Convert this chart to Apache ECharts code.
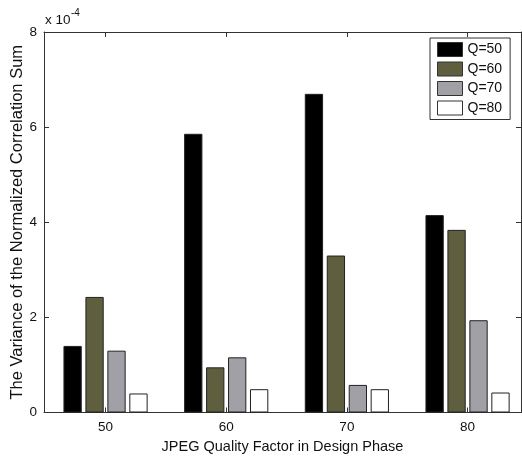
<!DOCTYPE html>
<html>
<head>
<meta charset="utf-8">
<script src="https://cdn.jsdelivr.net/npm/echarts@6/dist/echarts.min.js"></script>
<style>html,body{margin:0;padding:0;background:#fff;}#c{width:522px;height:459px;}</style>
</head>
<body>
<div id="c"></div>
<script>
var categories = [50, 60, 70, 80];
var seriesNames = ['Q=50', 'Q=60', 'Q=70', 'Q=80'];
var q50 = [1.40, 5.86, 6.70, 4.15];
var q60 = [2.43, 0.95, 3.30, 3.84];
var q70 = [1.30, 1.16, 0.58, 1.94];
var q80 = [0.40, 0.49, 0.49, 0.42];
var yTicks = [0, 2, 4, 6, 8];
var colors = ['#000000', '#5f5f3f', '#a0a0a6', '#ffffff'];
var allValues = [q50, q60, q70, q80];

var font = 'Liberation Sans, Arial, sans-serif';
var chart = echarts.init(document.getElementById('c'), null, {renderer: 'canvas'});

function pairs(vals) {
  return categories.map(function (c, i) { return [c, vals[i]]; });
}

var series = seriesNames.map(function (n, k) {
  return {
    name: n,
    type: 'bar',
    data: pairs(allValues[k]),
    barWidth: 18.3,
    barGap: '20%',
    itemStyle: {color: colors[k], borderColor: '#222', borderWidth: 1},
    emphasis: {disabled: true},
    animation: false
  };
});

var xMin = 44.9, xMax = 84.43;

chart.setOption({
  animation: false,
  textStyle: {fontFamily: font},
  grid: {left: 44, right: 1, top: 32, bottom: 46.5, containLabel: false, outerBoundsMode: 'none'},
  legend: {
    orient: 'vertical',
    left: 430, top: 38,
    itemWidth: 25, itemHeight: 14, itemGap: 4.5,
    padding: [4, 8, 4, 7],
    borderColor: '#333', borderWidth: 1,
    backgroundColor: '#fff',
    icon: 'rect',
    data: seriesNames,
    textStyle: {fontSize: 14, color: '#111', fontFamily: font},
    itemStyle: {borderColor: '#333', borderWidth: 1}
  },
  xAxis: [{
    type: 'value', min: xMin, max: xMax,
    name: 'JPEG Quality Factor in Design Phase',
    nameLocation: 'middle', nameGap: 25,
    nameTextStyle: {fontSize: 14.5, color: '#111', fontFamily: font},
    axisLine: {onZero: false, lineStyle: {color: '#333', width: 1}},
    axisTick: {inside: true, length: 5, customValues: categories, lineStyle: {color: '#333'}},
    axisLabel: {customValues: categories, fontSize: 13.5, color: '#111', margin: 8, fontFamily: font},
    splitLine: {show: false}
  }, {
    type: 'value', min: xMin, max: xMax, position: 'top',
    axisLine: {show: true, onZero: false, lineStyle: {color: '#333', width: 1}},
    axisTick: {show: true, inside: true, length: 5, customValues: categories, lineStyle: {color: '#333'}},
    axisLabel: {show: false},
    splitLine: {show: false}
  }],
  yAxis: [{
    type: 'value', min: 0, max: 8, interval: 2,
    name: 'The Variance of the Normalized Correlation Sum',
    nameLocation: 'middle', nameGap: 18, nameRotate: 90, nameMoveOverlap: false,
    nameTextStyle: {fontSize: 16.5, color: '#111', fontFamily: font},
    axisLine: {show: true, lineStyle: {color: '#333', width: 1}},
    axisTick: {show: true, inside: true, length: 5, lineStyle: {color: '#333'}},
    axisLabel: {fontSize: 13.5, color: '#111', margin: 7, fontFamily: font,
      formatter: function (v) { return yTicks.indexOf(v) >= 0 ? String(v) : ''; }},
    splitLine: {show: false}
  }, {
    type: 'value', min: 0, max: 8, interval: 2, position: 'right',
    axisLine: {show: true, lineStyle: {color: '#333', width: 1}},
    axisTick: {show: true, inside: true, length: 5, lineStyle: {color: '#333'}},
    axisLabel: {show: false},
    splitLine: {show: false}
  }],
  graphic: [
    {type: 'text', left: 45, top: 13, style: {text: 'x 10', fontSize: 13.5, fill: '#111', fontFamily: font}},
    {type: 'text', left: 71, top: 8, style: {text: '-4', fontSize: 10, fill: '#111', fontFamily: font}}
  ],
  series: series
});
</script>
</body>
</html>
